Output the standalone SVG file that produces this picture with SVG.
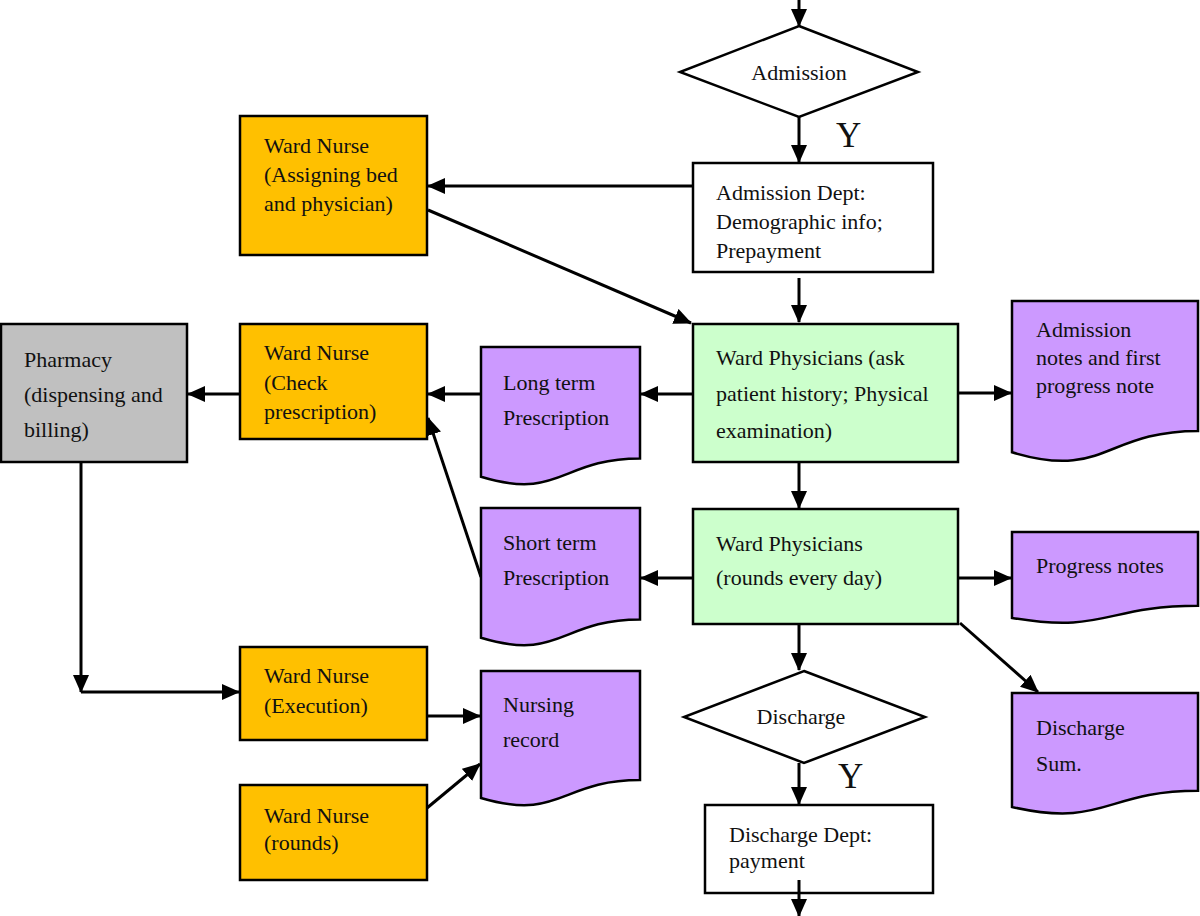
<svg xmlns="http://www.w3.org/2000/svg" width="1200" height="916" viewBox="0 0 1200 916">
<defs>
<style>
.box{stroke:#000;stroke-width:2.5}
.nurse{fill:#ffc000}
.doc{fill:#cc99ff}
.phys{fill:#ccffcc}
.pharm{fill:#c0c0c0}
.plain{fill:#fff}
.conn{stroke:#000;stroke-width:3;fill:none;marker-end:url(#ah)}
.line{stroke:#000;stroke-width:3;fill:none}
text{font-family:"Liberation Serif","Times New Roman",serif;font-size:22px;fill:#111}
.big{font-size:35px}
</style>
<marker id="ah" markerUnits="userSpaceOnUse" markerWidth="18" markerHeight="16" refX="17" refY="8" orient="auto">
<path d="M0,0 L18,8 L0,16 Z" fill="#000"/>
</marker>
</defs>
<rect width="1200" height="916" fill="#fff"/>

<g id="connectors">
<line class="conn" x1="799" y1="0" x2="799" y2="26"/>
<line class="conn" x1="799" y1="117" x2="799" y2="162"/>
<line class="conn" x1="799" y1="278" x2="799" y2="322"/>
<line class="conn" x1="693" y1="186" x2="428" y2="186"/>
<line class="conn" x1="428" y1="210" x2="691" y2="323"/>
<line class="conn" x1="693" y1="394" x2="641" y2="394"/>
<line class="conn" x1="481" y1="394" x2="428" y2="394"/>
<line class="conn" x1="240" y1="394" x2="188" y2="394"/>
<line class="conn" x1="958" y1="393" x2="1011" y2="393"/>
<line class="conn" x1="799" y1="462" x2="799" y2="508"/>
<line class="conn" x1="693" y1="578" x2="641" y2="578"/>
<line class="conn" x1="481" y1="577" x2="428" y2="418"/>
<line class="conn" x1="958" y1="578" x2="1011" y2="578"/>
<line class="conn" x1="960" y1="623" x2="1038" y2="692"/>
<line class="conn" x1="799" y1="624" x2="799" y2="670"/>
<line class="conn" x1="799" y1="763" x2="799" y2="804"/>
<line class="conn" x1="799" y1="880" x2="799" y2="916"/>
<line class="conn" x1="81" y1="462" x2="81" y2="692"/>
<line class="conn" x1="81" y1="692" x2="239" y2="692"/>
<line class="conn" x1="427" y1="716" x2="480" y2="716"/>
<line class="conn" x1="427" y1="808" x2="480" y2="764"/>
</g>

<g id="admission">
<polygon class="box plain" points="799,26 918,72 799,117 680,72"/>
<text x="799" y="80" text-anchor="middle">Admission</text>
</g>
<text class="big" x="836" y="147">Y</text>

<g id="admission-dept">
<rect class="box plain" x="693" y="163" width="240" height="109"/>
<text x="716" y="200">Admission Dept:</text>
<text x="716" y="229">Demographic info;</text>
<text x="716" y="258">Prepayment</text>
</g>

<g id="nurse-assign">
<rect class="box nurse" x="240" y="116" width="187" height="139"/>
<text x="264" y="153">Ward Nurse</text>
<text x="264" y="182">(Assigning bed</text>
<text x="264" y="211">and physician)</text>
</g>

<g id="physicians-1">
<rect class="box phys" x="693" y="324" width="265" height="138"/>
<text x="716" y="365">Ward Physicians (ask</text>
<text x="716" y="401">patient history; Physical</text>
<text x="716" y="438">examination)</text>
</g>

<g id="admission-notes">
<path class="box doc" d="M1012,301 H1198 V430.9 C1105,430.9 1105,480.3 1012,452.3 Z"/>
<text x="1036" y="337">Admission</text>
<text x="1036" y="365">notes and first</text>
<text x="1036" y="393">progress note</text>
</g>

<g id="long-term">
<path class="box doc" d="M481,347 H640 V458.5 C560.5,458.5 560.5,500.9 481,476.8 Z"/>
<text x="503" y="390">Long term</text>
<text x="503" y="425">Prescription</text>
</g>

<g id="nurse-check">
<rect class="box nurse" x="240" y="324" width="187" height="115"/>
<text x="264" y="360">Ward Nurse</text>
<text x="264" y="390">(Check</text>
<text x="264" y="419">prescription)</text>
</g>

<g id="pharmacy">
<rect class="box pharm" x="1" y="324" width="186" height="138"/>
<text x="24" y="367">Pharmacy</text>
<text x="24" y="402">(dispensing and</text>
<text x="24" y="437">billing)</text>
</g>

<g id="short-term">
<path class="box doc" d="M481,508 H640 V619.5 C560.5,619.5 560.5,661.9 481,637.8 Z"/>
<text x="503" y="550">Short term</text>
<text x="503" y="585">Prescription</text>
</g>

<g id="physicians-2">
<rect class="box phys" x="693" y="509" width="265" height="115"/>
<text x="716" y="551">Ward Physicians</text>
<text x="716" y="585">(rounds every day)</text>
</g>

<g id="progress-notes">
<path class="box doc" d="M1012,532 H1198 V605.8 C1105,605.8 1105,633.8 1012,617.9 Z"/>
<text x="1036" y="573">Progress notes</text>
</g>

<g id="discharge-sum">
<path class="box doc" d="M1012,693 H1198 V790.8 C1105,790.8 1105,828.1 1012,807 Z"/>
<text x="1036" y="735">Discharge</text>
<text x="1036" y="771">Sum.</text>
</g>

<g id="discharge">
<polygon class="box plain" points="804,671 925,717 804,763 684,717"/>
<text x="801" y="724" text-anchor="middle">Discharge</text>
</g>
<text class="big" x="838" y="788">Y</text>

<g id="discharge-dept">
<rect class="box plain" x="705" y="805" width="228" height="88"/>
<text x="729" y="842">Discharge Dept:</text>
<text x="729" y="868">payment</text>
</g>

<g id="nurse-execution">
<rect class="box nurse" x="240" y="647" width="187" height="93"/>
<text x="264" y="683">Ward Nurse</text>
<text x="264" y="713">(Execution)</text>
</g>

<g id="nursing-record">
<path class="box doc" d="M481,671 H640 V780.1 C560.5,780.1 560.5,821.6 481,798 Z"/>
<text x="503" y="712">Nursing</text>
<text x="503" y="747">record</text>
</g>

<g id="nurse-rounds">
<rect class="box nurse" x="240" y="785" width="187" height="95"/>
<text x="264" y="823">Ward Nurse</text>
<text x="264" y="850">(rounds)</text>
</g>
<line class="line" x1="799" y1="880" x2="799" y2="893"/>
</svg>
